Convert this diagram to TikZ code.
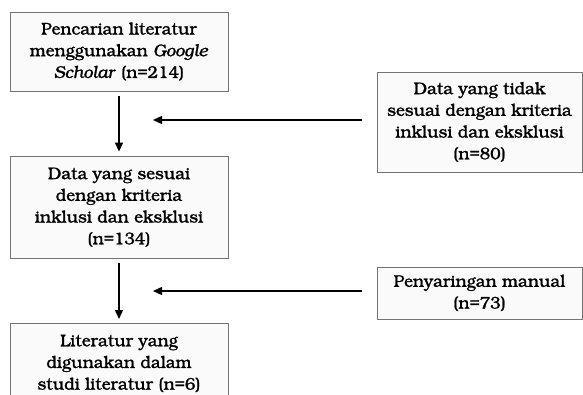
\documentclass[tikz,border=0pt]{standalone}
\usepackage[T1]{fontenc}
\usepackage{bookman}
\usetikzlibrary{arrows.meta}
\newcommand\heavytext{\special{pdf:literal direct 2 Tr 0.22 w}}
\tikzset{
  box/.style={draw=black!55, line width=0.9pt, fill=black!2, align=center, inner sep=0pt,
    font=\fontsize{16.9}{21.7}\selectfont\heavytext},
  flow/.style={line width=1.4pt, -{Triangle[length=9pt,width=8pt]}}
}
\begin{document}
\begin{tikzpicture}[x=1pt,y=-1pt]
\useasboundingbox (0,0) rectangle (583,394);
\node[box, minimum width=218pt, minimum height=79pt] (a) at (119,51.5)
  {Pencarian literatur\\menggunakan \textit{Google}\\\textit{Scholar} (n=214)};
\node[box, minimum width=218pt, minimum height=102pt] (b) at (119,207)
  {Data yang sesuai\\dengan kriteria\\inklusi dan eksklusi\\(n=134)};
\node[box, minimum width=218pt, anchor=north, inner ysep=11pt] (c) at (119,323)
  {Literatur yang\\digunakan dalam\\studi literatur (n=6)};
\node[box, minimum width=205pt, minimum height=100pt] (r1) at (479.5,122)
  {Data yang tidak\\sesuai dengan kriteria\\inklusi dan eksklusi\\(n=80)};
\node[box, minimum width=205pt, minimum height=52pt] (r2) at (479.5,293)
  {Penyaringan manual\\(n=73)};
\coordinate (e1) at (153,120);
\coordinate (e2) at (153,291);
\draw[flow, shorten <=5pt, shorten >=4pt] (a.south) -- (b.north);
\draw[flow, shorten <=5pt, shorten >=4pt] (b.south) -- (c.north);
\draw[flow, shorten <=15pt] (r1.west |- e1) -- (e1);
\draw[flow, shorten <=15pt] (r2.west |- e2) -- (e2);
\end{tikzpicture}
\end{document}
